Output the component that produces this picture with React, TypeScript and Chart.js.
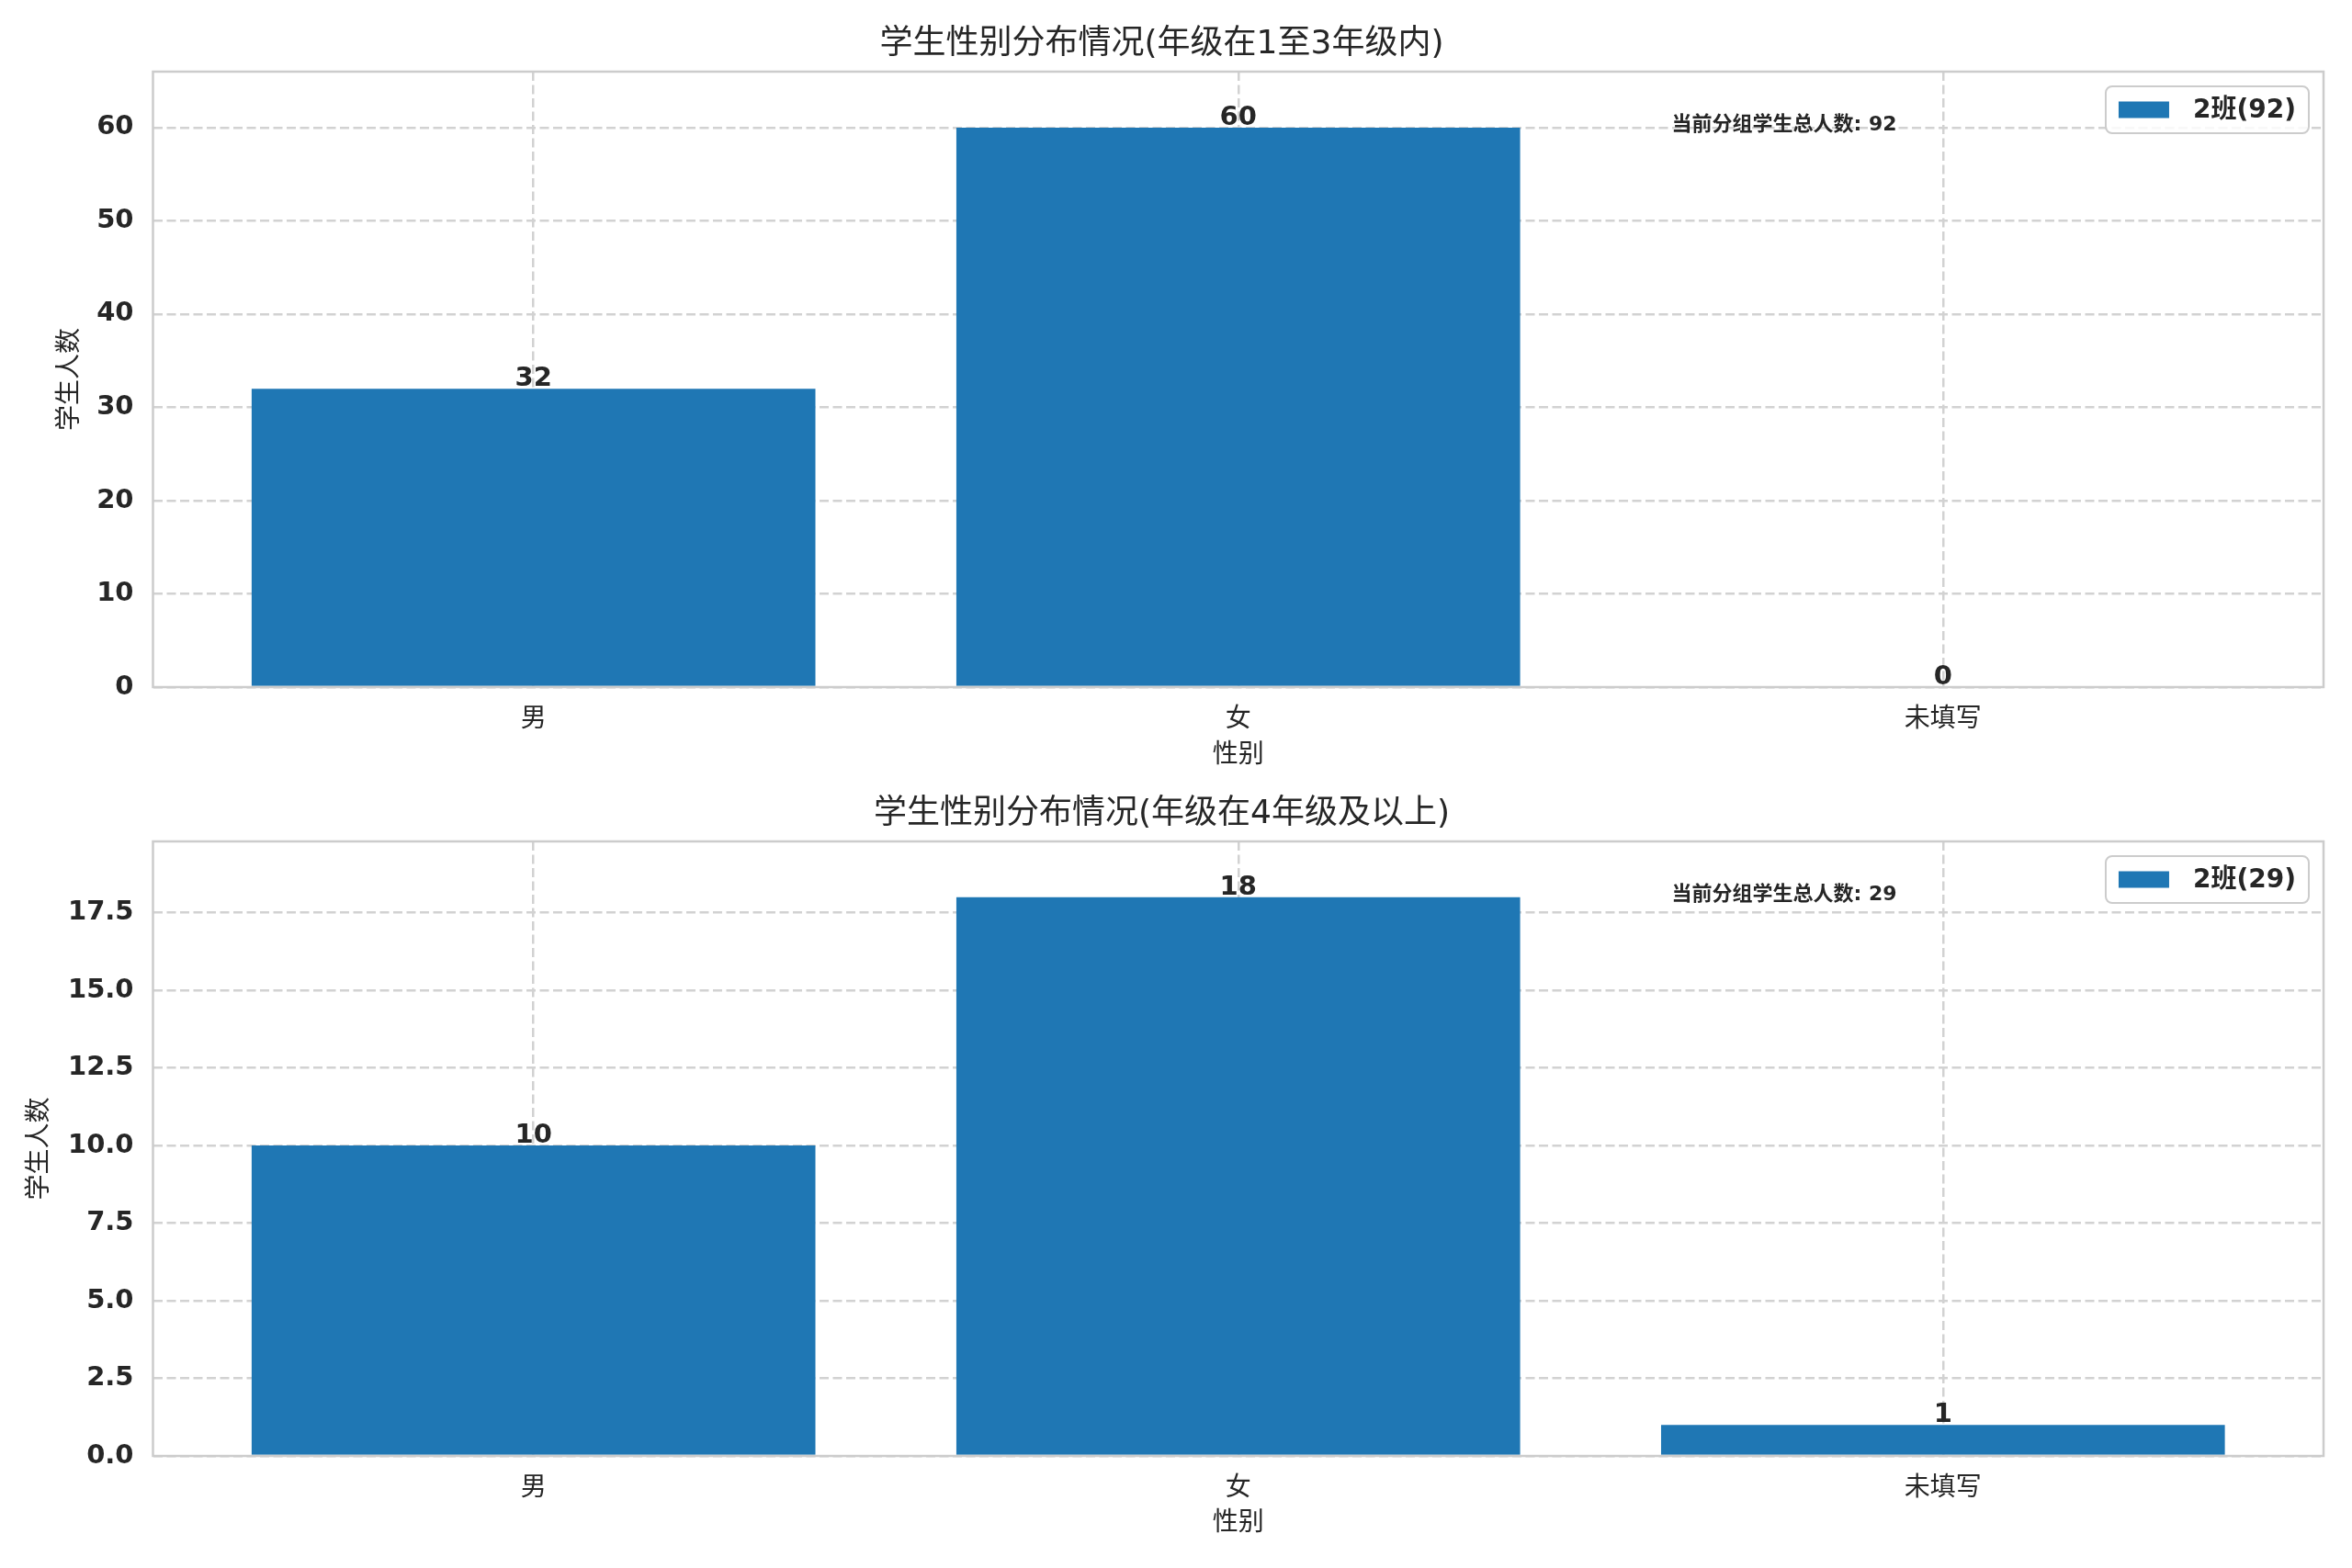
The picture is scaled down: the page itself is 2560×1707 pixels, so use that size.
import React, { useEffect, useRef } from "react";
import { Chart, registerables } from "chart.js";

Chart.register(...registerables);

// data
const categories = ["男", "女", "未填写"];
const valuesLower = [32, 60, 0];
const valuesUpper = [10, 18, 1];
const yTicksLower = [0, 10, 20, 30, 40, 50, 60];
const yTicksUpper = [0, 2.5, 5, 7.5, 10, 12.5, 15, 17.5];
const titleLower = "学生性别分布情况(年级在1至3年级内)";
const titleUpper = "学生性别分布情况(年级在4年级及以上)";
const seriesName = "2班";
const xAxisTitle = "性别";
const yAxisTitle = "学生人数";
const totalText = "当前分组学生总人数";

const BLUE = "#1f77b4";
const DARK = "#262626";
const GRID = "#d2d2d2";
const SPINE = "#cccccc";
const LATIN = "'DejaVu Sans'";
const MIXED = "'DejaVu Sans', 'Noto Sans CJK SC'";

interface PanelProps {
  title: string;
  values: number[];
  yTicks: number[];
  decimals: number;
  height: number;
  titleTop: number;
  titleBottom: number;
  xAxisHeight: number;
  xTitleBottom: number;
  yTitlePad: number;
}

const Panel: React.FC<PanelProps> = (p) => {
  const canvasRef = useRef<HTMLCanvasElement>(null);

  useEffect(() => {
    if (!canvasRef.current) return;
    const ctx = canvasRef.current.getContext("2d");
    if (!ctx) return;

    const total = p.values.reduce((a, b) => a + b, 0);
    const maxVal = Math.max(...p.values);
    const n = categories.length;
    const span = n - 1 + 0.8;
    const xMin = -0.4 - span * 0.05;
    const xMax = n - 1 + 0.4 + span * 0.05;
    const label = `${seriesName}(${total})`;

    const decor = {
      id: "decor",
      afterDatasetsDraw(chart: any) {
        const c = chart.ctx;
        const { left, right, top, bottom } = chart.chartArea;
        const xs = chart.scales.x;
        const ys = chart.scales.y;
        c.save();

        // spines
        c.strokeStyle = SPINE;
        c.lineWidth = 2.5;
        c.strokeRect(left, top, right - left, bottom - top);

        // value labels
        c.fillStyle = DARK;
        c.font = `bold 29px ${LATIN}`;
        c.textAlign = "center";
        c.textBaseline = "alphabetic";
        chart.getDatasetMeta(0).data.forEach((el: any, i: number) => {
          c.fillText(String(p.values[i]), el.x, el.y - 3);
        });

        // total annotation
        c.font = `bold 22px ${MIXED}`;
        c.textAlign = "left";
        c.textBaseline = "middle";
        c.fillText(`${totalText}: ${total}`, xs.getPixelForValue(1.615), ys.getPixelForValue(maxVal) - 3);

        // legend
        c.font = `bold 28px ${MIXED}`;
        const tw = c.measureText(label).width;
        const bw = 14 + 55 + 26 + tw + 14;
        const bh = 51;
        const bx = right - 16 - bw;
        const by = top + 16;
        c.beginPath();
        c.roundRect(bx, by, bw, bh, 7);
        c.fillStyle = "rgba(255,255,255,0.85)";
        c.fill();
        c.strokeStyle = SPINE;
        c.lineWidth = 2;
        c.stroke();
        c.fillStyle = BLUE;
        c.fillRect(bx + 14, by + bh / 2 - 9, 55, 18);
        c.fillStyle = DARK;
        c.textBaseline = "middle";
        c.fillText(label, bx + 14 + 55 + 26, by + bh / 2 + 1);
        c.restore();
      },
    };

    const tickFont = { family: LATIN, size: 29, weight: "bold" as const };
    const cjkFont = { family: MIXED, size: 28, weight: "normal" as const };

    const chart = new Chart(ctx, {
      type: "bar",
      data: {
        datasets: [
          {
            label,
            data: p.values.map((v, i) => ({ x: i, y: v })),
            backgroundColor: BLUE,
            borderWidth: 0,
            barPercentage: 0.8,
            categoryPercentage: 1,
          },
        ],
      },
      options: {
        animation: false,
        responsive: false,
        devicePixelRatio: 1,
        layout: { padding: { left: 0, right: 31, top: 0, bottom: 0 } },
        plugins: {
          legend: { display: false },
          tooltip: { enabled: false },
          title: {
            display: true,
            text: p.title,
            color: DARK,
            font: { family: MIXED, size: 36, weight: "normal" },
            padding: { top: p.titleTop, bottom: p.titleBottom },
          },
        },
        scales: {
          x: {
            type: "linear",
            min: xMin,
            max: xMax,
            offset: false,
            afterBuildTicks: (axis: any) => {
              axis.ticks = categories.map((_, i) => ({ value: i }));
            },
            afterFit: (axis: any) => {
              axis.height = p.xAxisHeight;
            },
            ticks: {
              callback: (v: any) => categories[v] ?? "",
              font: cjkFont,
              color: DARK,
              padding: 19,
              autoSkip: false,
              maxRotation: 0,
            },
            grid: { color: GRID, lineWidth: 2.5, drawTicks: false, offset: false },
            border: { display: false, dash: [10, 4.5] },
            title: {
              display: true,
              text: xAxisTitle,
              font: cjkFont,
              color: DARK,
              padding: { top: 0, bottom: p.xTitleBottom },
            },
          },
          y: {
            type: "linear",
            min: 0,
            max: maxVal * 1.1,
            afterBuildTicks: (axis: any) => {
              axis.ticks = p.yTicks.map((v) => ({ value: v }));
            },
            afterFit: (axis: any) => {
              axis.width = 166.5;
            },
            ticks: {
              callback: (v: any) => Number(v).toFixed(p.decimals),
              font: tickFont,
              color: DARK,
              padding: 21,
            },
            grid: { color: GRID, lineWidth: 2.5, drawTicks: false },
            border: { display: false, dash: [10, 4.5] },
            title: {
              display: true,
              text: yAxisTitle,
              font: cjkFont,
              color: DARK,
              padding: { top: p.yTitlePad, bottom: 0 },
            },
          },
        },
      },
      plugins: [decor],
    });

    return () => {
      chart.destroy();
    };
  }, [p]);

  return (
    <canvas
      ref={canvasRef}
      width={2560}
      height={p.height}
      style={{ display: "block", width: 2560, height: p.height }}
    />
  );
};

const App: React.FC = () => {
  useEffect(() => {
    document.body.style.margin = "0";
    document.body.style.background = "#ffffff";
  }, []);

  return (
    <div style={{ width: 2560, lineHeight: 0 }}>
      <Panel
        title={titleLower}
        values={valuesLower}
        yTicks={yTicksLower}
        decimals={0}
        height={853}
        titleTop={27.4}
        titleBottom={7.4}
        xAxisHeight={105}
        xTitleBottom={13}
        yTitlePad={59.5}
      />
      <Panel
        title={titleUpper}
        values={valuesUpper}
        yTicks={yTicksUpper}
        decimals={1}
        height={854}
        titleTop={12.4}
        titleBottom={7.4}
        xAxisHeight={122}
        xTitleBottom={31}
        yTitlePad={27}
      />
    </div>
  );
};

export default App;
